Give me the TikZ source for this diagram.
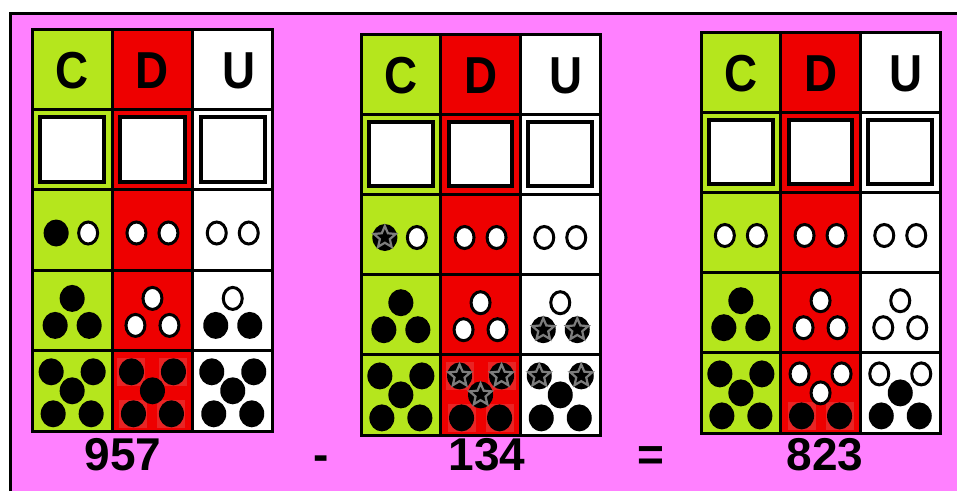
\documentclass[tikz,border=0pt]{standalone}
\usepackage{fontspec}
\usepackage{graphicx}
\setmainfont{Liberation Sans}
\usetikzlibrary{shapes.geometric}
\definecolor{pinkbg}{RGB}{255,128,255}
\definecolor{limeg}{RGB}{181,230,29}
\definecolor{redc}{RGB}{238,0,0}
\definecolor{redsq}{RGB}{233,36,36}
\definecolor{stargray}{RGB}{125,125,125}
\tikzset{
  dotb/.style={ellipse, fill=black, minimum width=25pt, minimum height=27pt, inner sep=0pt},
  dotw/.style={ellipse, fill=white, draw=black, line width=3pt, minimum width=19pt, minimum height=22pt, inner sep=0pt},
  starmark/.style={star, star points=5, star point ratio=2.2, minimum size=23pt, inner sep=0pt, fill=black, draw=stargray, line width=2.2pt},
  gridline/.style={line width=3pt, black, line cap=rect},
  innerbox/.style={line width=4pt, black, fill=white},
  hdr/.style={anchor=base, inner sep=0pt, font=\fontsize{52}{52}\selectfont\bfseries},
  numtxt/.style={anchor=base, inner sep=0pt, font=\fontsize{46}{46}\selectfont\bfseries}
}
\newcommand\pdot[3]{\csname pdotX#1\endcsname{#2}{#3}}
\newcommand\pdotXb[2]{\node[dotb] at (#1,#2) {};}
\newcommand\pdotXw[2]{\node[dotw] at (#1,#2) {};}
\newcommand\pdotXs[2]{\node[dotb] at (#1,#2) {};\node[starmark] at (#1,#2) {};}
\newcommand\rowtwo[4]{\pdot{#3}{#1-16}{#2+3}\pdot{#4}{#1+16}{#2+3}}
\newcommand\rowthree[5]{\pdot{#3}{#1}{#2-12}\pdot{#4}{#1-17}{#2+15}\pdot{#5}{#1+17}{#2+15}}
\newcommand\rowfive[7]{\pdot{#3}{#1-21}{#2-19}\pdot{#4}{#1+21}{#2-19}\pdot{#5}{#1}{#2}\pdot{#6}{#1-19}{#2+23}\pdot{#7}{#1+19}{#2+23}}
\newcommand\rsq[2]{\fill[redsq] (#1-14,#2-14) rectangle (#1+14,#2+14);}
% x0, y0, w, h
\newcommand\cdutable[4]{%
  \fill[limeg] (#1,#2) rectangle (#1+#3,#2+5*#4);
  \fill[redc] (#1+#3,#2) rectangle (#1+2*#3,#2+5*#4);
  \fill[white] (#1+2*#3,#2) rectangle (#1+3*#3,#2+5*#4);
}
\newcommand\cdugrid[4]{%
  \foreach \i in {0,1,2} {\draw[innerbox] (#1+\i*#3+8,#2+#4+8) rectangle (#1+\i*#3+#3-8,#2+2*#4-8);}
  \foreach \i in {0,...,3} {\draw[gridline] (#1+\i*#3,#2) -- (#1+\i*#3,#2+5*#4);}
  \foreach \j in {0,...,5} {\draw[gridline] (#1,#2+\j*#4) -- (#1+3*#3,#2+\j*#4);}
  \node[hdr] at (#1+0.5*#3,#2+59) {\scalebox{0.88}[1]{C}};
  \node[hdr] at (#1+1.5*#3,#2+59) {\scalebox{0.88}[1]{D}};
  \node[hdr] at (#1+2.5*#3+6,#2+59) {\scalebox{0.88}[1]{U}};
}
\begin{document}
\begin{tikzpicture}[x=1pt,y=-1pt]
\useasboundingbox (0,0) rectangle (957,491);
\fill[white] (0,0) rectangle (957,491);
\fill[pinkbg] (10.5,13.5) rectangle (957,491);
\draw[line width=3pt] (10.5,491) -- (10.5,13.5) -- (957,13.5);

% ---------- table 1 : 957
\cdutable{32}{29}{80.3}{80.4}
\rsq{131.45}{371.8}\rsq{173.45}{371.8}\rsq{133.45}{413.8}\rsq{171.45}{413.8}
\cdugrid{32}{29}{80.3}{80.4}
\rowtwo{72.15}{230}{b}{w}\rowtwo{152.45}{230}{w}{w}\rowtwo{232.75}{230}{w}{w}
\rowthree{72.15}{310.4}{b}{b}{b}\rowthree{152.45}{310.4}{w}{w}{w}\rowthree{232.75}{310.4}{w}{b}{b}
\rowfive{72.15}{390.8}{b}{b}{b}{b}{b}\rowfive{152.45}{390.8}{b}{b}{b}{b}{b}\rowfive{232.75}{390.8}{b}{b}{b}{b}{b}

% ---------- table 2 : 134
\cdutable{361}{34}{79.7}{80.2}
\rsq{459.55}{375.9}\rsq{501.55}{375.9}\rsq{461.55}{417.9}\rsq{499.55}{417.9}
\cdugrid{361}{34}{79.7}{80.2}
\rowtwo{400.85}{234.5}{s}{w}\rowtwo{480.55}{234.5}{w}{w}\rowtwo{560.25}{234.5}{w}{w}
\rowthree{400.85}{314.7}{b}{b}{b}\rowthree{480.55}{314.7}{w}{w}{w}\rowthree{560.25}{314.7}{w}{s}{s}
\rowfive{400.85}{394.9}{b}{b}{b}{b}{b}\rowfive{480.55}{394.9}{s}{s}{s}{b}{b}\rowfive{560.25}{394.9}{s}{s}{b}{b}{b}

% ---------- table 3 : 823
\cdutable{701}{32}{79.7}{80.2}
\rsq{801.55}{415.9}\rsq{839.55}{415.9}
\cdugrid{701}{32}{79.7}{80.2}
\rowtwo{740.85}{232.5}{w}{w}\rowtwo{820.55}{232.5}{w}{w}\rowtwo{900.25}{232.5}{w}{w}
\rowthree{740.85}{312.7}{b}{b}{b}\rowthree{820.55}{312.7}{w}{w}{w}\rowthree{900.25}{312.7}{w}{w}{w}
\rowfive{740.85}{392.9}{b}{b}{b}{b}{b}\rowfive{820.55}{392.9}{w}{w}{w}{b}{b}\rowfive{900.25}{392.9}{w}{w}{b}{b}{b}

% ---------- bottom operation
\node[numtxt] (n1) at (123,470) {957};
\node[numtxt] (minus) at (321,470) {-};
\node[numtxt] (n2) at (487,470) {134};
\node[numtxt] (eq) at (651,470) {=};
\node[numtxt] (n3) at (825,470) {823};
\end{tikzpicture}
\end{document}
